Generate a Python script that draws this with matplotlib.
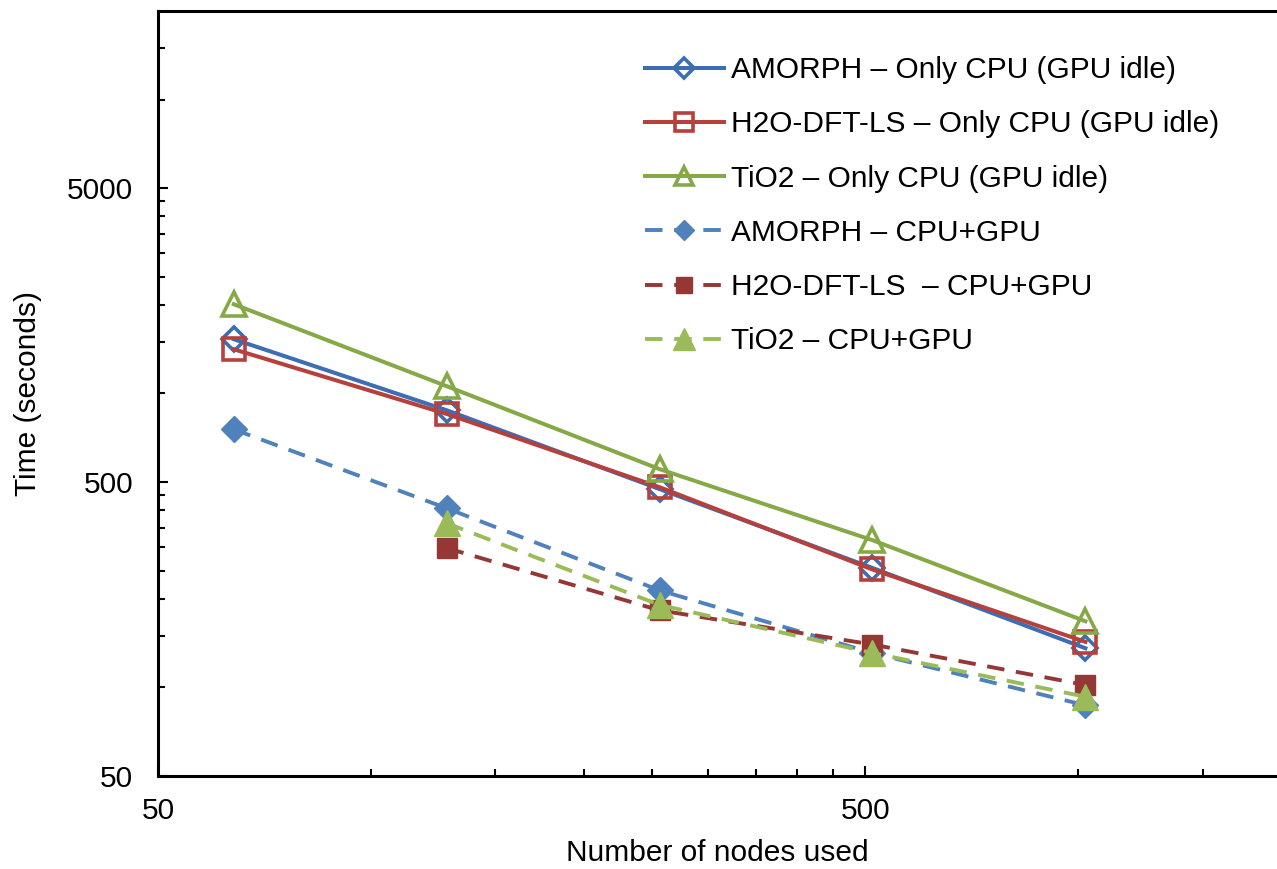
import matplotlib
matplotlib.use("Agg")
import matplotlib.pyplot as plt
from matplotlib.ticker import FixedLocator, FixedFormatter, NullFormatter

plt.rcParams["font.family"] = ["Liberation Sans", "DejaVu Sans"]

# nodes used
nodes = [64, 128, 256, 512, 1024]
nodes_gpu_h2o = [128, 256, 512, 1024]

# time in seconds
amorph_cpu = [1530, 877, 473, 255, 136]
h2o_cpu = [1414, 852, 480, 252, 143]
tio2_cpu = [2012, 1059, 553, 317, 168]
amorph_gpu = [755, 407, 214, 131, 87]
h2o_gpu = [298, 183, 140, 102]
tio2_gpu = [362, 191, 131, 93]
tio2_gpu_nodes = [128, 256, 512, 1024]

labels = [
    "AMORPH \u2013 Only CPU (GPU idle)",
    "H2O-DFT-LS \u2013 Only CPU (GPU idle)",
    "TiO2 \u2013 Only CPU (GPU idle)",
    "AMORPH \u2013 CPU+GPU",
    "H2O-DFT-LS  \u2013 CPU+GPU",
    "TiO2 \u2013 CPU+GPU",
]

x_major = [50, 500]
x_minor = [100, 150, 200, 250, 300, 350, 400, 450, 1000, 1500]
y_major = [50, 500, 5000]
y_minor = [100, 150, 200, 250, 300, 350, 400, 450,
           1000, 1500, 2000, 2500, 3000, 3500, 4000, 4500, 10000, 15000]

fig = plt.figure(figsize=(12.77, 8.69), dpi=100)
ax = fig.add_axes([158 / 1277, 1 - 776 / 869, 1 - 158 / 1277, (776 - 11) / 869])

c_blue, c_red, c_green = "#3D6DB3", "#B5403C", "#86A947"
g_blue, g_red, g_green = "#4F81BD", "#953735", "#9BBB59"

lw = 2.9
mew = 2.6
ax.plot(nodes, amorph_cpu, color=c_blue, lw=lw, marker="D", ms=12.5,
        mfc="none", mec=c_blue, mew=mew, label=labels[0])
ax.plot(nodes, h2o_cpu, color=c_red, lw=lw, marker="s", ms=16,
        mfc="none", mec=c_red, mew=mew, label=labels[1])
ax.plot(nodes, tio2_cpu, color=c_green, lw=lw, marker="^", ms=17,
        mfc="none", mec=c_green, mew=mew, label=labels[2])

dash = (4.5, 3)
ax.plot(nodes, amorph_gpu, color=g_blue, lw=2.8, dashes=dash, marker="D",
        ms=13, mfc=g_blue, mec=g_blue, mew=1, label=labels[3])
ax.plot(nodes_gpu_h2o, h2o_gpu, color=g_red, lw=2.8, dashes=dash, marker="s",
        ms=15, mfc=g_red, mec=g_red, mew=1, label=labels[4])
ax.plot(tio2_gpu_nodes, tio2_gpu, color=g_green, lw=2.8, dashes=dash, marker="^",
        ms=19, mfc=g_green, mec=g_green, mew=1, label=labels[5])

ax.set_xscale("log")
ax.set_yscale("log")
ax.set_xlim(50, 1911)
ax.set_ylim(50, 20000)

ax.xaxis.set_major_locator(FixedLocator(x_major))
ax.xaxis.set_major_formatter(FixedFormatter([str(v) for v in x_major]))
ax.xaxis.set_minor_locator(FixedLocator(x_minor))
ax.xaxis.set_minor_formatter(NullFormatter())
ax.yaxis.set_major_locator(FixedLocator(y_major))
ax.yaxis.set_major_formatter(FixedFormatter([str(v) for v in y_major]))
ax.yaxis.set_minor_locator(FixedLocator(y_minor))
ax.yaxis.set_minor_formatter(NullFormatter())

ax.tick_params(which="both", direction="in", width=1.5, colors="black")
ax.tick_params(which="major", length=7, labelsize=21.5)
ax.tick_params(axis="x", which="major", pad=15)
ax.tick_params(axis="y", which="major", pad=18)
ax.tick_params(which="minor", length=5)

for side in ["left", "bottom", "top"]:
    ax.spines[side].set_linewidth(2.2)
ax.spines["right"].set_visible(False)

ax.set_xlabel("Number of nodes used", fontsize=21.5, labelpad=10)
ax.set_ylabel("Time (seconds)", fontsize=21.5, labelpad=18)

fig.legend(loc="upper left", bbox_to_anchor=(645 / 1277, 1 - 56 / 869),
           bbox_transform=fig.transFigure, frameon=False, fontsize=21.5,
           handlelength=2.64, handletextpad=0.25, labelspacing=0.88,
           borderpad=0, borderaxespad=0, markerscale=0.8)

fig.savefig("out.png", dpi=100)
